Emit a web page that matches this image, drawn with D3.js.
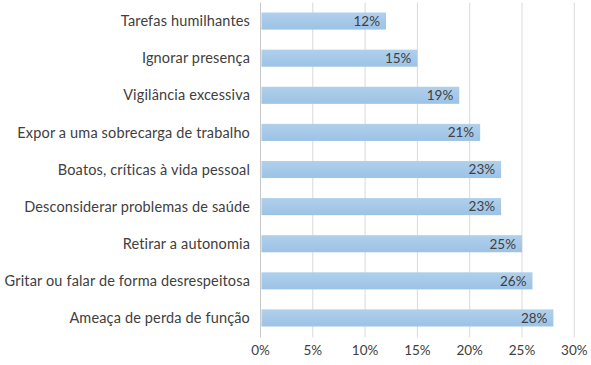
<!DOCTYPE html>
<html><head><meta charset="utf-8">
<script src="https://cdn.jsdelivr.net/npm/d3@7"></script>
<style>body{margin:0;background:#fff}svg{display:block}text{font-family:Lato,"Open Sans",sans-serif}</style>
</head><body>
<svg id="c" width="591" height="365"></svg>
<script>
const categories = ["Tarefas humilhantes","Ignorar presença","Vigilância excessiva","Expor a uma sobrecarga de trabalho","Boatos, críticas à vida pessoal","Desconsiderar problemas de saúde","Retirar a autonomia","Gritar ou falar de forma desrespeitosa","Ameaça de perda de função"];
const values = [12,15,19,21,23,23,25,26,28];
const ticks = [0,5,10,15,20,25,30];

(function(){
const svg = d3.select("#c");
const pL = 260.5, pR = 574.3, pT = 2.5, pB = 336.5;
const x = d3.scaleLinear().domain([0,30]).range([pL,pR]);
const y = d3.scaleBand().domain(categories).range([pT,pB]).paddingInner(0.54).paddingOuter(0.27);

const defs = svg.append("defs");
const g = defs.append("linearGradient").attr("id","bg").attr("x1",0).attr("y1",0).attr("x2",0).attr("y2",1);
g.append("stop").attr("offset","0%").attr("stop-color","#b0d0ec");
g.append("stop").attr("offset","100%").attr("stop-color","#9cc2e5");

svg.append("g").selectAll("line").data(ticks).join("line")
  .attr("x1",d=>x(d)).attr("x2",d=>x(d)).attr("y1",pT).attr("y2",pB+1)
  .attr("stroke",d=>d===0?"#c8c8c8":"#d9d9d9").attr("stroke-width",1);

svg.append("g").selectAll("rect").data(values).join("rect")
  .attr("x",x(0)+1).attr("y",(d,i)=>y(categories[i]))
  .attr("width",d=>x(d)-x(0)-1).attr("height",y.bandwidth())
  .attr("fill","url(#bg)");

svg.append("g").selectAll("text").data(values).join("text")
  .attr("x",d=>x(d)-6).attr("y",(d,i)=>y(categories[i])+y.bandwidth()/2)
  .attr("dy","0.36em").attr("text-anchor","end")
  .attr("font-size",13.5).attr("fill","#404040").text(d=>d+"%");

svg.append("g").selectAll("text").data(categories).join("text")
  .attr("x",250).attr("y",d=>y(d)+y.bandwidth()/2).attr("dy","0.36em")
  .attr("text-anchor","end").attr("font-size",14.5).attr("letter-spacing",0.15)
  .attr("fill","#404040").text(d=>d);

svg.append("g").selectAll("text").data(ticks).join("text")
  .attr("x",d=>x(d)).attr("y",350).attr("dy","0.36em").attr("text-anchor","middle")
  .attr("font-size",13.5).attr("fill","#404040").text(d=>d+"%");
})();
</script>
</body></html>
